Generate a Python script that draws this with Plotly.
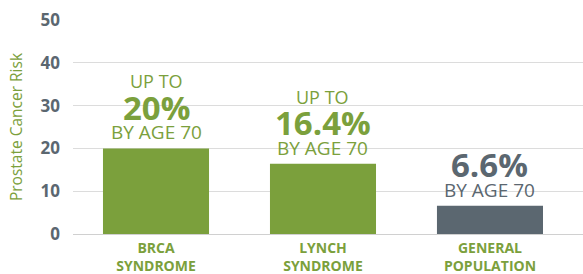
import plotly.graph_objects as go

categories = ["BRCA<br>SYNDROME", "LYNCH<br>SYNDROME", "GENERAL<br>POPULATION"]
risk_values = [20, 16.4, 6.6]
prefix_labels = ["UP TO", "UP TO", ""]
value_labels = ["20%", "16.4%", "6.6%"]
suffix_labels = ["BY AGE 70", "BY AGE 70", "BY AGE 70"]
bar_colors = ["#7ba03c", "#7ba03c", "#5b6770"]
tick_values = [0, 10, 20, 30, 40, 50]

GREEN = "#7ba03c"
GRAY = "#5b6770"
FONT = "Open Sans"

fig = go.Figure()
fig.add_trace(go.Bar(
    x=categories, y=risk_values, marker=dict(color=bar_colors, line=dict(width=0)),
    width=0.635, hoverinfo="skip"
))

for cat, val, pre, lab, suf, col in zip(categories, risk_values, prefix_labels,
                                        value_labels, suffix_labels, bar_colors):
    if pre:
        fig.add_annotation(x=cat, y=val, text=pre, showarrow=False, yanchor="middle",
                           yshift=67, borderpad=0,
                           font=dict(family=FONT, size=18, color=col))
    fig.add_annotation(x=cat, y=val, text="<b>" + lab + "</b>", showarrow=False,
                       yanchor="middle", yshift=41, borderpad=0,
                       font=dict(family=FONT, size=33, color=col))
    fig.add_annotation(x=cat, y=val, text=suf, showarrow=False, yanchor="middle",
                       yshift=16, borderpad=0,
                       font=dict(family=FONT, size=19, color=col))

fig.update_layout(
    width=583, height=274,
    margin=dict(l=73, r=0, t=20, b=40),
    paper_bgcolor="white", plot_bgcolor="white",
    showlegend=False,
    font=dict(family=FONT),
)
fig.update_xaxes(
    type="category", range=[-0.497, 2.557], automargin=False,
    showgrid=False, showline=False, zeroline=False,
    tickfont=dict(family=FONT, size=14, color=GREEN, weight="bold"),
    ticks="", ticklabelstandoff=4,
)
fig.update_yaxes(
    range=[0, 50], tickvals=tick_values, automargin=False,
    showgrid=True, gridcolor="#dcdcdc", gridwidth=1,
    zeroline=True, zerolinecolor="#d0d0d0", zerolinewidth=1, showline=False,
    tickfont=dict(family=FONT, size=17, color=GRAY, weight="bold"),
    ticklabelstandoff=12,
    title=dict(text="Prostate Cancer Risk", font=dict(family=FONT, size=15.5, color=GREEN),
               standoff=14),
)

fig.write_html("out.html", config={"displayModeBar": False},
               post_script="document.body.style.margin='0';")
